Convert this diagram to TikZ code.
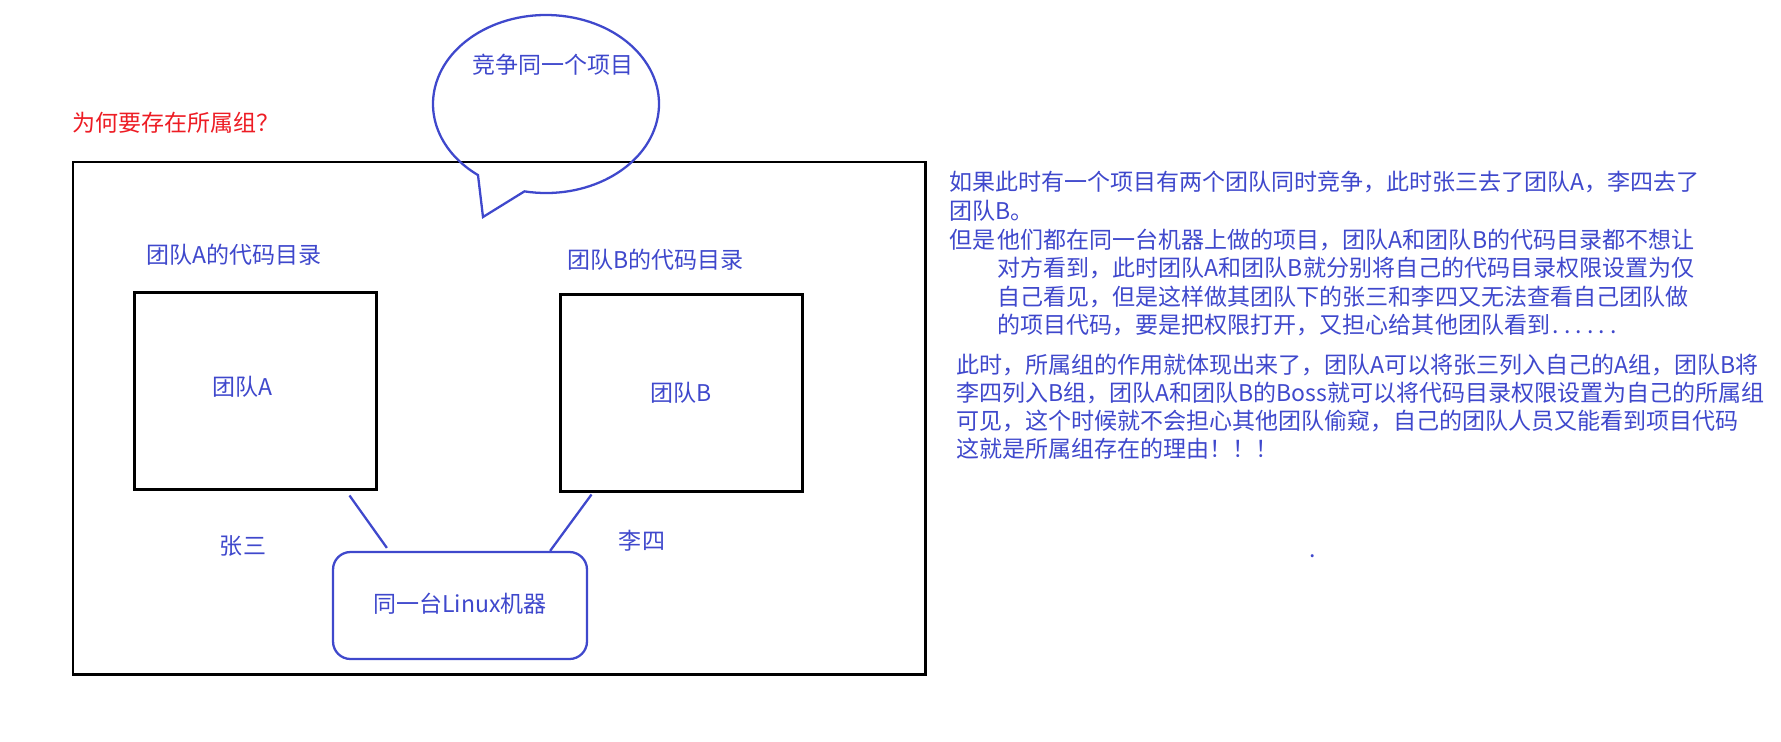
\documentclass[tikz,border=0pt]{standalone}
\usepackage{fontspec}
\setmainfont{Noto Sans CJK SC}
\usepackage{xcolor}
\definecolor{note-blue}{HTML}{3F48CC}
\definecolor{title-red}{HTML}{ED1C24}
\newcommand{\halfdot}{\makebox[0.5em]{.}}

\begin{document}
\begin{tikzpicture}[x=0.02cm, y=-0.02cm,
      every node/.style={font=\fontsize{13.1pt}{16.3pt}\selectfont, text=note-blue, inner sep=0pt},
      dir-box/.style={draw=black, line width=1.7pt, minimum width=4.86cm, minimum height=3.96cm},
      blue-line/.style={draw=note-blue, line width=1.3pt}]
    \useasboundingbox (0,0) rectangle (1781,741);
    \node[text=title-red, anchor=west] (title) at (72,123) {为何要存在所属组？};
    \draw[line width=1.7pt] (73,162) rectangle (925,674);
    % speech bubble
    \coordinate (bubble) at (546,104);
    \coordinate (tip) at (483,217);
    \draw[blue-line] (tip) -- ([shift={(101:113 and 89)}]bubble)
        arc[start angle=101, end angle=-233, x radius=113, y radius=89] -- cycle;
    \node (topic) at (553,65) {竞争同一个项目};
    \node[anchor=west] (dirA) at (146,255) {团队A的代码目录};
    \node[anchor=west] (dirB) at (567,260) {团队B的代码目录};
    \node[dir-box, label={[xshift=-0.26cm, yshift=0.08cm]center:团队A}] (boxA) at (255.5,391) {};
    \node[dir-box] (boxB) at (681.5,393) {团队B};
    \node[draw=note-blue, line width=1.3pt, rounded corners=0.35cm,
          minimum width=5.08cm, minimum height=2.14cm] (host) at (460,605.5)
          {\raisebox{0.1cm}{同一台Linux机器}\hspace{0.14cm}};
    \draw[blue-line] ([xshift=-0.58cm, yshift=-0.08cm]boxA.south east)
        -- ([xshift=1.1cm, yshift=0.06cm]host.north west);
    \draw[blue-line] ([xshift=0.66cm, yshift=-0.02cm]boxB.south west)
        -- ([xshift=-0.76cm]host.north east);
    \node (zhang) at (243,546) {张三};
    \node (li) at (642,541) {李四};
    % notes on the right
    \node[anchor=north west, align=left] (why) at (949,171)
      {如果此时有一个项目有两个团队同时竞争，此时张三去了团队A，李四去了\\
       团队B。\\
       但是\hspace{0.1em}他们都在同一台机器上做的项目，团队A和团队B的代码目录都不想让\\
       \hspace*{2.1em}对方看到，此时团队A和团队B就分别将自己的代码目录权限设置为仅\\
       \hspace*{2.1em}自己看见，但是这样做其团队下的张三和李四又无法查看自己团队做\\
       \hspace*{2.1em}的项目代码，要是把权限打开，又担心给其他团队看到\halfdot\halfdot\halfdot\halfdot\halfdot\halfdot};
    \node[anchor=north west, align=left, font=\fontsize{13.1pt}{15.8pt}\selectfont] (reason) at (956,354)
      {此时，所属组的作用就体现出来了，团队A可以将张三列入自己的A组，团队B将\\
       李四列入B组，团队A和团队B的Boss就可以将代码目录权限设置为自己的所属组\\
       可见，这个时候就不会担心其他团队偷窥，自己的团队人员又能看到项目代码\\
       这就是所属组存在的理由！！！};
    \node[anchor=base] (dot) at (1313,557) {.};
\end{tikzpicture}
\end{document}
